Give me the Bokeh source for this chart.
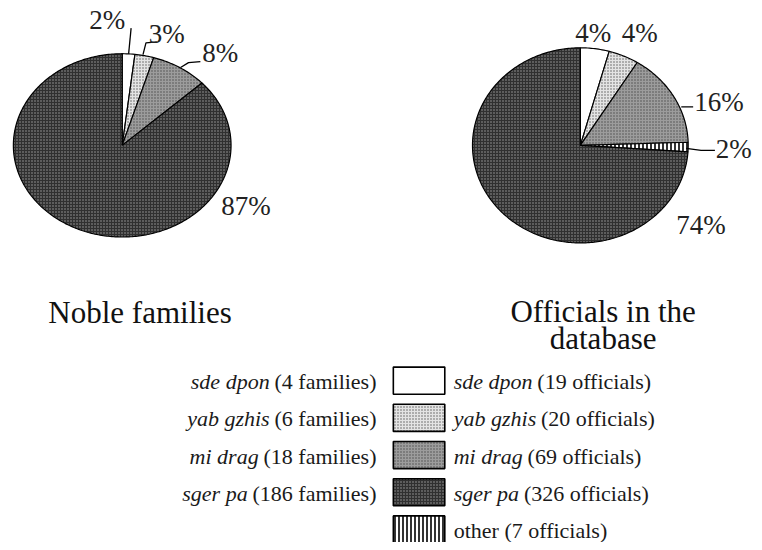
import numpy as np
from bokeh.plotting import figure
from bokeh.models import ColumnDataSource, Range1d
from bokeh.core.properties import value
from bokeh.embed import file_html
from bokeh.resources import INLINE

# ---------------- data ----------------
noble_categories = ["sde dpon", "yab gzhis", "mi drag", "sger pa"]
noble_counts = [4, 6, 18, 186]
noble_pct_labels = ["2%", "3%", "8%", "87%"]

official_categories = ["sde dpon", "yab gzhis", "mi drag", "other", "sger pa"]
official_counts = [19, 20, 69, 7, 326]
official_pct_labels = ["4%", "4%", "16%", "2%", "74%"]

legend_official_order = ["sde dpon", "yab gzhis", "mi drag", "sger pa", "other"]
titles_left = ["Noble families"]
titles_right = ["Officials in the", "database"]

# ---------------- styles ----------------
STYLE = {
    "sde dpon": dict(fill="#ffffff", hatch="blank", hcolor="#ffffff", hscale=3, hweight=1),
    "yab gzhis": dict(fill="#e4e4e4", hatch="dot", hcolor="#5a5a5a", hscale=3, hweight=1),
    "mi drag": dict(fill="#9c9c9c", hatch="dot", hcolor="#4a4a4a", hscale=3, hweight=1),
    "sger pa": dict(fill="#303030", hatch="dot", hcolor="#a0a0a0", hscale=3, hweight=1),
    "other": dict(fill="#ffffff", hatch="vertical_line", hcolor="#000000", hscale=4, hweight=1.6),
}
SERIF = "Liberation Serif"

# Times / Liberation Serif advance widths (per 1000 em)
ROMAN = {' ': 250, '(': 333, ')': 333, 'a': 444, 'c': 444, 'e': 444, 'f': 333, 'i': 278,
         'l': 278, 'm': 778, 'o': 500, 's': 389, 't': 278, 'h': 500, 'r': 333, 'n': 500}
ITALIC = {' ': 250, 'a': 500, 'b': 500, 'd': 500, 'e': 444, 'g': 500, 'h': 500, 'i': 278,
          'm': 722, 'n': 500, 'o': 500, 'p': 500, 'r': 389, 's': 389, 'y': 444, 'z': 389}

W, H = 754, 542
XR, YR = 762, 550
PX2DATA = XR / W  # horizontal data units per screen pixel


def text_width(s, table, size):
    return sum(table.get(ch, 500) for ch in s) / 1000.0 * size * PX2DATA


# ---------------- figure ----------------
p = figure(width=W, height=H, output_backend="svg", toolbar_location=None,
           x_range=Range1d(0, XR), y_range=Range1d(YR, 0),
           x_axis_location=None, y_axis_location=None, min_border=0)
p.grid.visible = False
p.outline_line_color = None
p.background_fill_color = "white"
p.border_fill_color = "white"


def pie_source(cats, counts, cx, cy, rx, ry):
    total = float(sum(counts))
    cum = np.concatenate([[0.0], np.cumsum(counts)]) / total * 2 * np.pi
    xs, ys = [], []
    for i in range(len(counts)):
        n = max(int((cum[i + 1] - cum[i]) / (2 * np.pi) * 400), 3)
        t = np.linspace(cum[i], cum[i + 1], n)
        xs.append([cx] + list(cx + rx * np.sin(t)))
        ys.append([cy] + list(cy - ry * np.cos(t)))
    return ColumnDataSource(dict(
        xs=xs, ys=ys,
        fill=[STYLE[c]["fill"] for c in cats],
        hatch=[STYLE[c]["hatch"] for c in cats],
        hcolor=[STYLE[c]["hcolor"] for c in cats],
        hscale=[STYLE[c]["hscale"] for c in cats],
        hweight=[STYLE[c]["hweight"] for c in cats],
    ))


for cats, counts, geom in [(noble_categories, noble_counts, (123, 147, 110, 93)),
                           (official_categories, official_counts, (586, 147, 109, 99))]:
    src = pie_source(cats, counts, *geom)
    p.patches("xs", "ys", source=src, fill_color="fill", line_color="black", line_width=1.2,
              hatch_pattern="hatch", hatch_color="hcolor", hatch_scale="hscale",
              hatch_weight="hweight")

# leader lines (annotation layout)
leaders = [
    [(129.5, 54), (132, 28)],
    [(144, 55), (147, 43), (158, 42)],
    [(182, 68), (190, 63), (202, 62)],
    [(688, 108), (700, 108)],
    [(693, 150), (708, 152), (722, 152)],
]
p.multi_line([[q[0] for q in l] for l in leaders], [[q[1] for q in l] for l in leaders],
             line_color="black", line_width=1.3)

# percentage labels
left_label_pos = [(108, 20), (168, 34), (222, 53), (248, 209)]
right_label_pos = [(599, 33), (646, 33), (726, 103), (741, 151), (708, 228)]
lab = ColumnDataSource(dict(
    x=[q[0] for q in left_label_pos + right_label_pos],
    y=[q[1] for q in left_label_pos + right_label_pos],
    t=noble_pct_labels + official_pct_labels))
p.text("x", "y", text="t", source=lab, text_align="center", text_baseline="middle",
       text_font=value(SERIF), text_font_size=value("27px"), text_color="#222222")

# titles
p.text(x=[141], y=[317], text=titles_left, text_align="center", text_baseline="alphabetic",
       text_font=value(SERIF), text_font_size=value("31px"), text_color="#111111")
p.text(x=[609, 609], y=[316, 343], text=titles_right, text_align="center",
       text_baseline="alphabetic", text_font=value(SERIF), text_font_size=value("31px"),
       text_color="#111111")

# legend
LFS = 22
row_top0, row_step, box_h = 372, 37.75, 27.5
box_l, box_r = 397, 449
left_text_right = 380
right_text_left = 458
gap = 0.22 * LFS * PX2DATA

off_counts = dict(zip(official_categories, official_counts))
leg_rows = legend_official_order
tops = [row_top0 + i * row_step for i in range(len(leg_rows))]
p.quad(left=box_l, right=box_r, top=tops, bottom=[t + box_h for t in tops],
       fill_color=[STYLE[c]["fill"] for c in leg_rows], line_color="black", line_width=1.6,
       hatch_pattern=[STYLE[c]["hatch"] for c in leg_rows],
       hatch_color=[STYLE[c]["hcolor"] for c in leg_rows],
       hatch_scale=[STYLE[c]["hscale"] for c in leg_rows],
       hatch_weight=[STYLE[c]["hweight"] for c in leg_rows])

# left column (noble families)
lx_it, lx_rm, ly, lt_it, lt_rm = [], [], [], [], []
for i, (c, n) in enumerate(zip(noble_categories, noble_counts)):
    reg = f"({n} families)"
    y = tops[i] + box_h / 2 + 1
    lx_rm.append(left_text_right)
    lx_it.append(left_text_right - text_width(reg, ROMAN, LFS) - gap)
    ly.append(y)
    lt_it.append(c)
    lt_rm.append(reg)
p.text(x=lx_rm, y=ly, text=lt_rm, text_align="right", text_baseline="middle",
       text_font=value(SERIF), text_font_size=value(f"{LFS}px"), text_color="#1a1a1a")
p.text(x=lx_it, y=ly, text=lt_it, text_align="right", text_baseline="middle",
       text_font=value(SERIF), text_font_style="italic", text_font_size=value(f"{LFS}px"),
       text_color="#1a1a1a")

# right column (officials)
rx_it, rx_rm, ry_, rt_it, rt_rm = [], [], [], [], []
for i, c in enumerate(leg_rows):
    y = tops[i] + box_h / 2 + 1
    if c == "other":
        rx_rm.append(right_text_left)
        rt_rm.append(f"other ({off_counts[c]} officials)")
        ry_.append(y)
        continue
    rx_it.append(right_text_left)
    rt_it.append(c)
    rx_rm.append(right_text_left + text_width(c, ITALIC, LFS) + gap)
    rt_rm.append(f"({off_counts[c]} officials)")
    ry_.append(y)
p.text(x=rx_rm, y=ry_, text=rt_rm, text_align="left", text_baseline="middle",
       text_font=value(SERIF), text_font_size=value(f"{LFS}px"), text_color="#1a1a1a")
p.text(x=rx_it, y=ry_[:len(rx_it)], text=rt_it, text_align="left", text_baseline="middle",
       text_font=value(SERIF), text_font_style="italic", text_font_size=value(f"{LFS}px"),
       text_color="#1a1a1a")

open("out.html", "w").write(file_html(p, INLINE))
